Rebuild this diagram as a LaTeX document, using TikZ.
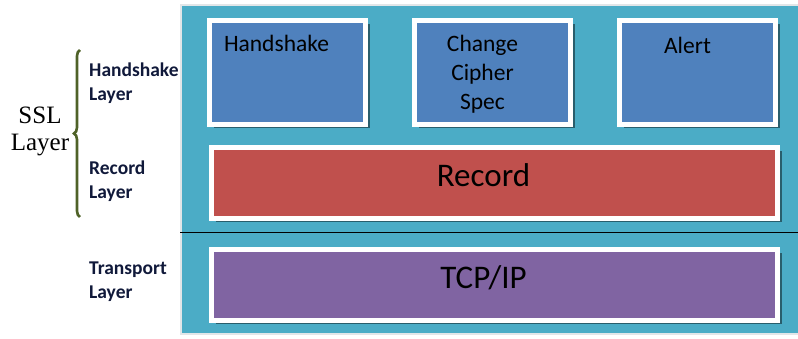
\documentclass[tikz,border=0pt]{standalone}
\usepackage{fontspec}
\setmainfont{Carlito}
\newfontfamily\sslserif{Liberation Serif}
\usepackage{tikz}
\usetikzlibrary{positioning,shadows,decorations.pathreplacing}
\definecolor{aquabg}{HTML}{4BACC6}
\definecolor{protoblue}{HTML}{4F81BD}
\definecolor{recordred}{HTML}{C0504D}
\definecolor{tcppurple}{HTML}{8064A2}
\definecolor{braceolive}{HTML}{4F6228}
\definecolor{edgegray}{HTML}{E2E6E8}
\definecolor{labelnavy}{HTML}{10193A}

\begin{document}
\begin{tikzpicture}[
    x=1pt, y=1pt,
    node distance=44pt,
    proto/.style={draw=white, line width=5pt, fill=protoblue, minimum width=156pt, minimum height=104pt, inner sep=0pt, drop shadow={shadow xshift=4pt, shadow yshift=-4pt, fill=black, opacity=0.45}},
    band/.style={proto, minimum width=566pt, minimum height=71pt},
    boxtext/.style={font=\fontsize{23.5}{29}\selectfont, align=center, inner sep=0pt},
    bandtext/.style={font=\fontsize{33}{38}\selectfont, inner sep=0pt, anchor=base},
    sidelabel/.style={font=\bfseries\fontsize{19.5}{24}\selectfont, text=labelnavy, align=left, anchor=north west, inner sep=0pt}
]
    \useasboundingbox (0,0) rectangle (798,339);

    % left hand labels
    \node[font=\sslserif\fontsize{25}{27}\selectfont, align=center, inner sep=0pt] (ssl) at (40,208) {SSL\\Layer};
    \coordinate (brTop) at (80,289);
    \coordinate (brBot) at (80,122);
    \draw[braceolive, line width=2.6pt, decorate, decoration={brace, amplitude=6pt}] (brBot) -- (brTop);
    \node[sidelabel] (hsl) at (89,276) {Handshake\\Layer};
    \node[sidelabel] (rcl) at (89,178) {Record\\Layer};
    \node[sidelabel] (tpl) at (89,77) {Transport\\Layer};

    % backdrop
    \draw[edgegray, line width=2pt, fill=aquabg] (181,5) rectangle (800,334);
    \coordinate (divL) at (180,106);
    \coordinate (divR) at (798,106);
    \draw[black, line width=1pt] (divL) -- (divR);

    \node[proto] (hs) at (287.5,266.5) {};
    \node[proto, right=of hs] (ccs) {};
    \node[proto, right=of ccs] (alert) {};
    \node[band, fill=recordred, below=18pt of hs.south west, anchor=north west, xshift=2pt] (record) {};
    \node[band, fill=tcppurple, below=26pt of record] (tcp) {};

    \node[boxtext, anchor=base] (hst) at ([xshift=-11pt, yshift=-34pt]hs.north) {Handshake};
    \node[boxtext] (ccst) at ([xshift=-10pt, yshift=-2pt]ccs.center) {Change\\Cipher\\Spec};
    \node[boxtext, anchor=base] (alt) at ([xshift=-10pt, yshift=-36pt]alert.north) {Alert};
    \node[bandtext] (rect) at ([xshift=-11pt, yshift=-4pt]record.center) {Record};
    \node[bandtext] (tcpt) at ([xshift=-11pt, yshift=-4pt]tcp.center) {TCP/IP};
\end{tikzpicture}
\end{document}
